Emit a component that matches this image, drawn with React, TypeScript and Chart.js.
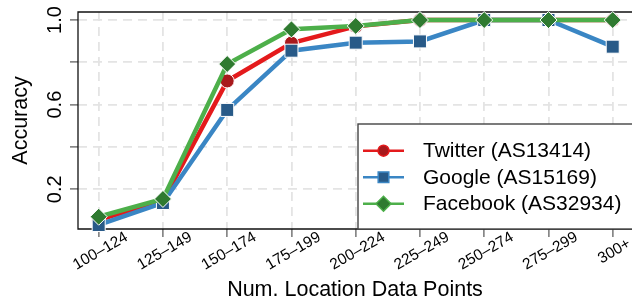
import React, { useEffect, useRef } from "react";
import { Chart, registerables } from "chart.js";

Chart.register(...registerables);

const categories = ["100–124", "125–149", "150–174", "175–199", "200–224", "225–249", "250–274", "275–299", "300+"];
const seriesNames = ["Twitter (AS13414)", "Google (AS15169)", "Facebook (AS32934)"];
const twitter = [0.055, 0.145, 0.712, 0.891, 0.97, 1.0, 1.0, 1.0, 1.0];
const google = [0.031, 0.135, 0.575, 0.855, 0.893, 0.899, 1.0, 1.0, 0.874];
const facebook = [0.07, 0.154, 0.792, 0.956, 0.972, 1.0, 1.0, 1.0, 1.0];
const yTicks = [0.2, 0.4, 0.6, 0.8, 1.0];
const yLabeled = [0.2, 0.6, 1.0];

const FONT = "'Liberation Sans', Arial, Helvetica, sans-serif";

const styles = [
  { line: "#e41a1c", fill: "#a8191c", shape: "circle", r: 7, lr: 5.5 },
  { line: "#3a86c4", fill: "#285a88", shape: "rect", r: 9.2, lr: 7.5 },
  { line: "#4daf4a", fill: "#2f7a30", shape: "rectRot", r: 8.5, lr: 7.5 },
];

function drawMarker(ctx: CanvasRenderingContext2D, shape: string, x: number, y: number, r: number) {
  ctx.beginPath();
  if (shape === "circle") {
    ctx.arc(x, y, r, 0, Math.PI * 2);
  } else if (shape === "rect") {
    const h = r * Math.SQRT1_2;
    ctx.rect(x - h, y - h, 2 * h, 2 * h);
  } else {
    ctx.moveTo(x - r, y);
    ctx.lineTo(x, y - r);
    ctx.lineTo(x + r, y);
    ctx.lineTo(x, y + r);
    ctx.closePath();
  }
  ctx.fill();
  ctx.stroke();
}

const boxPlugin = {
  id: "plotBox",
  beforeDatasetsDraw(chart: any) {
    const { ctx, chartArea } = chart;
    const { left, top, right, bottom } = chartArea;
    ctx.save();
    ctx.strokeStyle = "#111";
    ctx.lineWidth = 1.3;
    ctx.beginPath();
    ctx.moveTo(right + 5, top);
    ctx.lineTo(left, top);
    ctx.lineTo(left, bottom);
    ctx.lineTo(right + 5, bottom);
    ctx.stroke();
    ctx.restore();
  },
  afterDatasetsDraw(chart: any) {
    const { ctx, chartArea } = chart;
    const bx = 358;
    const by = 124;
    ctx.save();
    ctx.fillStyle = "#fff";
    ctx.strokeStyle = "#444";
    ctx.lineWidth = 1.4;
    ctx.fillRect(bx, by, 320, chartArea.bottom - by);
    ctx.strokeRect(bx, by, 320, chartArea.bottom - by);
    const rowY = [150.7, 177.2, 203.7];
    seriesNames.forEach((name, i) => {
      const st = styles[i];
      const y = rowY[i];
      ctx.strokeStyle = st.line;
      ctx.lineWidth = 2.5;
      ctx.beginPath();
      ctx.moveTo(363, y);
      ctx.lineTo(404, y);
      ctx.stroke();
      ctx.fillStyle = st.fill;
      ctx.lineWidth = 1.5;
      drawMarker(ctx, st.shape, 383.5, y, st.lr);
      ctx.fillStyle = "#000";
      ctx.font = `21px ${FONT}`;
      ctx.textAlign = "left";
      ctx.textBaseline = "middle";
      ctx.fillText(name, 423, y + 1);
    });
    ctx.restore();
  },
};

export default function App() {
  const ref = useRef<HTMLCanvasElement>(null);
  useEffect(() => {
    if (!ref.current) return;
    const all = [twitter, google, facebook];
    const datasets = all.map((vals, i) => ({
      label: seriesNames[i],
      data: vals.map((v, j) => ({ x: j, y: v })),
      borderColor: styles[i].line,
      backgroundColor: styles[i].fill,
      borderWidth: 4.5,
      pointStyle: styles[i].shape,
      pointRadius: styles[i].r,
      pointBackgroundColor: styles[i].fill,
      pointBorderColor: "#ffffff",
      pointBorderWidth: 1,
      tension: 0,
      clip: false as any,
      order: 3 - i,
    }));
    const gridCommon = {
      color: "#e4e4e4",
      lineWidth: 1.8,
      tickLength: 8,
      tickColor: "#555",
      tickWidth: 1.2,
    };
    const chart = new Chart(ref.current, {
      type: "line",
      data: { datasets },
      options: {
        animation: false,
        responsive: false,
        devicePixelRatio: 1,
        layout: { autoPadding: false, padding: { top: 12, left: 0, right: 0, bottom: 0 } },
        plugins: { legend: { display: false }, tooltip: { enabled: false } },
        font: { family: FONT },
        scales: {
          x: {
            type: "linear",
            min: -0.322,
            max: 8.3,
            afterBuildTicks: (s: any) => {
              s.ticks = categories.map((_, i) => ({ value: i }));
            },
            afterFit: (s: any) => {
              s.height = 71;
              s.paddingLeft = 0;
              s.paddingRight = 0;
            },
            ticks: {
              autoSkip: false,
              minRotation: 30,
              maxRotation: 30,
              labelOffset: 28,
              padding: -9,
              color: "#000",
              font: { size: 15.5, family: FONT },
              callback: (v: any) => {
                const lab = categories[Math.round(v)];
                return lab === "300+" ? lab + "   " : lab;
              },
            },
            grid: gridCommon,
            border: { display: false, dash: [9, 6] },
            title: {
              display: true,
              text: "Num. Location Data Points",
              color: "#000",
              font: { size: 21.5, family: FONT },
              padding: { top: 0, bottom: -3 },
            },
          },
          y: {
            type: "linear",
            min: 0.012,
            max: 1.038,
            afterBuildTicks: (s: any) => {
              s.ticks = yTicks.map((v) => ({ value: v }));
            },
            afterFit: (s: any) => {
              s.width = 78;
              s.paddingTop = 0;
              s.paddingBottom = 0;
            },
            ticks: {
              autoSkip: false,
              minRotation: 90,
              maxRotation: 90,
              crossAlign: "center",
              padding: 1,
              color: "#000",
              font: { size: 20, family: FONT },
              callback: (v: any) => {
                const n = Number(v);
                return yLabeled.some((t) => Math.abs(t - n) < 1e-6) ? n.toFixed(1) : "";
              },
            },
            grid: gridCommon,
            border: { display: false, dash: [9, 6] },
            title: {
              display: true,
              text: "Accuracy",
              color: "#000",
              font: { size: 21.5, family: FONT },
              padding: { top: 8, bottom: 0 },
            },
          },
        },
      } as any,
      plugins: [boxPlugin],
    });
    return () => chart.destroy();
  }, []);
  return (
    <div style={{ position: "absolute", left: 0, top: 0, width: 632, height: 300, background: "#fff" }}>
      <canvas ref={ref} width={632} height={300} style={{ display: "block", width: 632, height: 300 }} />
    </div>
  );
}
